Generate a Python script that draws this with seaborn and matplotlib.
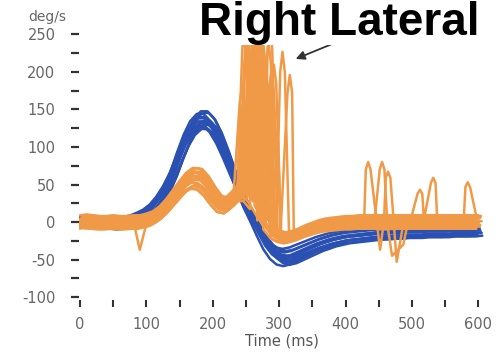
import numpy as np
import pandas as pd
import matplotlib
matplotlib.use("Agg")
import matplotlib.pyplot as plt
import seaborn as sns

# ---------------- data ----------------
time_grid = list(range(0, 601, 10))  # ms

blue_base = [0, 0, -1, -1, -1, -2, -1, 1, 3, 7,
             12, 20, 32, 48, 68, 92, 114, 131, 140, 140,
             131, 114, 92, 68, 45, 25, 8, -10, -27, -39,
             -46, -48, -46, -42, -38, -34, -30, -27, -24, -22,
             -20, -19, -18, -17, -16, -15, -15, -14, -14, -13,
             -13, -13, -12, -12, -12, -12, -11, -11, -11, -11,
             -10]

orange_base = [0, 1, 0, -1, -1, 0, -1, -1, 0, 0,
               2, 5, 11, 20, 31, 42, 52, 58, 57, 48,
               35, 24, 22, 30, 40, 40, 28, 12, -2, -14,
               -19, -21, -19, -16, -12, -9, -6, -4, -3, -2,
               -1, -1, 0, 0, 0, 0, 0, 0, 0, 0,
               0, 0, 0, 0, 0, 0, 0, 0, 0, 0,
               0]

blue_scale = [1.08, 1.04, 1.0, 0.96, 0.93, 0.9, 0.87, 1.02, 0.98, 0.91, 1.06, 0.95]
blue_shift = [-4, 2, 0, 5, -2, 3, -5, 6, -3, 1, 4, -1]
blue_offset = [-7, 2, 0, -5, 4, -2, 6, -8, 1, 5, -3, -6]

orange_scale = [1.08, 0.94, 1.0, 1.1, 0.9, 1.03, 0.96, 1.06, 0.91, 1.0, 0.95, 1.04, 0.93, 1.09, 0.99, 1.01, 0.92]
orange_shift = [-3, 2, 0, 4, -4, 1, -2, 3, -1, 5, -5, 2, -3, 0, 1, -2, 3]
orange_offset = [4, -6, 0, 8, -8, 2, -3, 6, -5, 1, -2, 5, -9, 9, -1, 3, -4]

# per-trace oscillation peaks (time ms, deg/s)
orange_peaks = [
    [(248, 262), (270, 190)],
    [(258, 262), (280, 150)],
    [(250, 210), (272, 262)],
    [(262, 250), (284, 240)],
    [(266, 262)],
    [(244, 180), (276, 235)],
    [(255, 190), (286, 262)],
    [(268, 230), (292, 210)],
    [(246, 160), (264, 262)],
    [(252, 262), (274, 255)],
    [(283, 150), (305, 227)],
    [(295, 120), (316, 196)],
    [(256, 262), (278, 200)],
    [(260, 210), (282, 185)],
    [(262, 240)],
    [(270, 262), (434, 80), (464, 67), (512, 43), (532, 59), (584, 53)],
    [(250, 230), (288, 200), (455, 80)],
]
# per-trace single troughs (time ms, deg/s)
orange_dips = [
    [], [], [], [], [], [], [], [], [], [], [], [], [], [],
    [(90, -37)],
    [(452, -37), (477, -53)],
    [(470, -45), (487, -30)],
]
PEAK_SHOULDER = 0.88  # rounded top of each oscillation

# ---------------- build long-form table ----------------
rows = []
for i, (s, sh, o) in enumerate(zip(blue_scale, blue_shift, blue_offset)):
    for t, v in zip(time_grid, blue_base):
        rows.append(("blue", f"b{i}", t + sh, v * s + o))
for i, (s, sh, o) in enumerate(zip(orange_scale, orange_shift, orange_offset)):
    peaks, dips = orange_peaks[i], orange_dips[i]
    marks = [t for t, _ in peaks] + [t for t, _ in dips]
    pts = [(t + sh, v * s + o) for t, v in zip(time_grid, orange_base)
           if all(abs(t + sh - m) >= 6 for m in marks)]
    for tp, h in peaks:
        pts += [(tp - 3.5, h * PEAK_SHOULDER), (tp, h), (tp + 3.5, h * PEAK_SHOULDER)]
    pts += list(dips)
    pts.sort()
    for t, v in pts:
        rows.append(("orange", f"o{i}", t, v))
df = pd.DataFrame(rows, columns=["group", "trace", "time", "value"])

# ---------------- plot ----------------
sns.set_style("white")
plt.rcParams["font.family"] = ["DejaVu Sans"]

fig = plt.figure(figsize=(5, 3.54), dpi=100)
ax = fig.add_axes([0.158, 0.1525, 0.812, 0.7628])
sns.lineplot(data=df, x="time", y="value", hue="group", units="trace",
             estimator=None, sort=False, hue_order=["blue", "orange"],
             palette={"blue": "#2a50b2", "orange": "#f09a48"},
             lw=1.8, legend=False, ax=ax)

ax.set_xlim(-1.5, 610)
ax.set_ylim(-104, 256)
sns.despine(ax=ax, left=True, bottom=True, top=True, right=True)

ax.set_yticks(range(-100, 251, 50))
ax.set_yticklabels(["-100", "-50", "0", "50", "100", "150", "200", "250"])
ax.set_yticks(np.arange(-75, 250, 50), minor=True)
ax.set_xticks(range(0, 601, 100))
ax.set_xticks(range(50, 601, 100), minor=True)

ax.tick_params(axis="y", which="both", left=True, direction="out", length=6,
               width=1.6, color="#333333", labelsize=10.5, labelcolor="#666666", pad=11)
ax.tick_params(axis="x", which="both", bottom=True, direction="out", length=5,
               width=1.5, color="#333333", labelsize=10.5, labelcolor="#666666", pad=7)
ax.set_xlabel("Time (ms)", fontsize=10.5, color="#555555", labelpad=1)
ax.set_ylabel("")

fig.text(47 / 500, 1 - 17 / 354, "deg/s", fontsize=10, color="#666666",
         ha="center", va="center")
fig.text(199 / 500, 1 - 35 / 354, "Right Lateral", fontsize=33, fontweight="bold",
         family="Liberation Sans", color="black", ha="left", va="baseline",
         bbox=dict(facecolor="white", edgecolor="none", pad=0))

ax.annotate("", xy=(321, 216), xytext=(387, 240),
            arrowprops=dict(arrowstyle="-|>", color="#333333", lw=1.3, mutation_scale=13),
            annotation_clip=False)

fig.savefig("out.png", dpi=100)
